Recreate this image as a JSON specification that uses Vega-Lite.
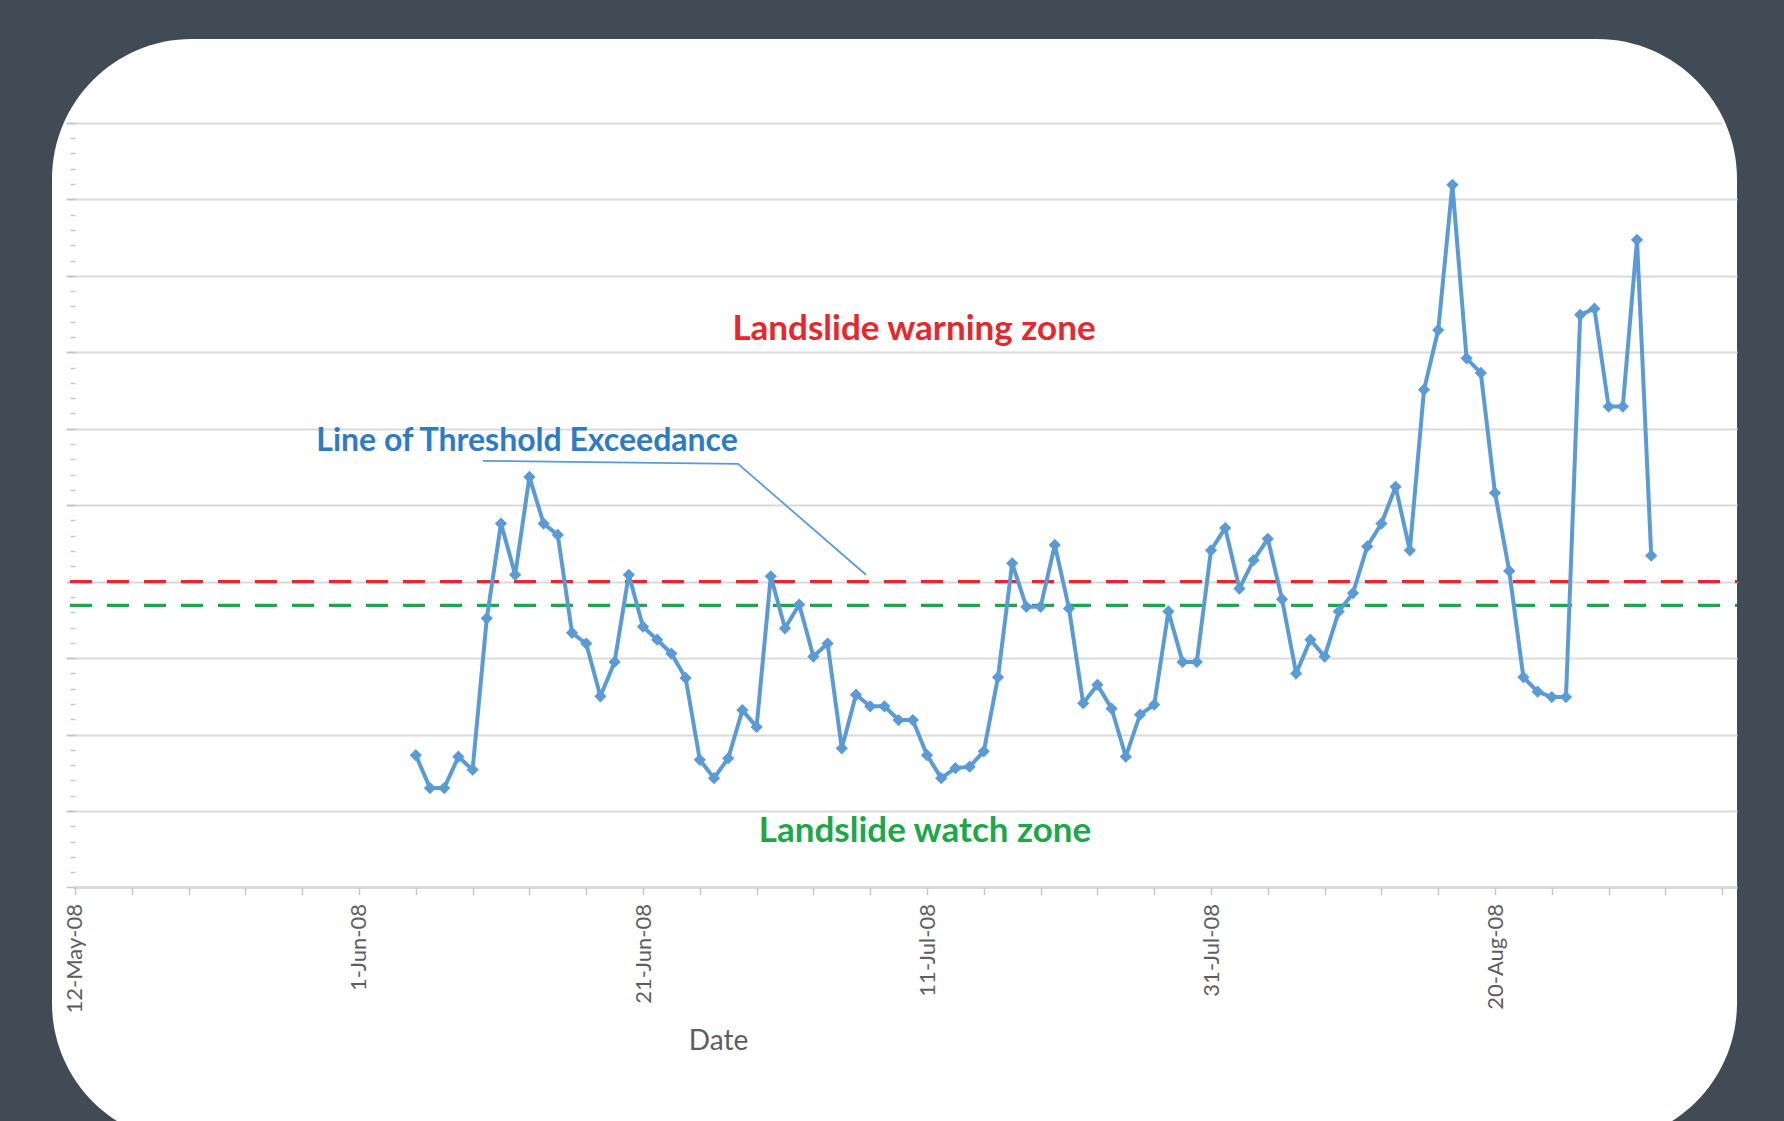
{
  "$schema": "https://vega.github.io/schema/vega-lite/v6.json",
  "usermeta": {"embedOptions": {"actions": false}},
  "autosize": {"type": "none"},
  "width": 1685,
  "height": 1104,
  "padding": {"left": 52, "top": 39, "right": 47, "bottom": 0},
  "background": "#414b56",
  "config": {
    "view": {"fill": "#ffffff", "stroke": null, "cornerRadius": 140},
    "font": "Lato"
  },
  "datasets": {
    "series": [
      {"date": "2008-06-05", "value": 1.73}, {"date": "2008-06-06", "value": 1.30}, {"date": "2008-06-07", "value": 1.30},
      {"date": "2008-06-08", "value": 1.71}, {"date": "2008-06-09", "value": 1.54}, {"date": "2008-06-10", "value": 3.52},
      {"date": "2008-06-11", "value": 4.76}, {"date": "2008-06-12", "value": 4.09}, {"date": "2008-06-13", "value": 5.37},
      {"date": "2008-06-14", "value": 4.76}, {"date": "2008-06-15", "value": 4.61}, {"date": "2008-06-16", "value": 3.33},
      {"date": "2008-06-17", "value": 3.19}, {"date": "2008-06-18", "value": 2.50}, {"date": "2008-06-19", "value": 2.95},
      {"date": "2008-06-20", "value": 4.09}, {"date": "2008-06-21", "value": 3.41}, {"date": "2008-06-22", "value": 3.24},
      {"date": "2008-06-23", "value": 3.06}, {"date": "2008-06-24", "value": 2.74}, {"date": "2008-06-25", "value": 1.67},
      {"date": "2008-06-26", "value": 1.43}, {"date": "2008-06-27", "value": 1.69}, {"date": "2008-06-28", "value": 2.32},
      {"date": "2008-06-29", "value": 2.10}, {"date": "2008-06-30", "value": 4.07}, {"date": "2008-07-01", "value": 3.39},
      {"date": "2008-07-02", "value": 3.70}, {"date": "2008-07-03", "value": 3.02}, {"date": "2008-07-04", "value": 3.19},
      {"date": "2008-07-05", "value": 1.82}, {"date": "2008-07-06", "value": 2.52}, {"date": "2008-07-07", "value": 2.37},
      {"date": "2008-07-08", "value": 2.37}, {"date": "2008-07-09", "value": 2.19}, {"date": "2008-07-10", "value": 2.19},
      {"date": "2008-07-11", "value": 1.73}, {"date": "2008-07-12", "value": 1.43}, {"date": "2008-07-13", "value": 1.56},
      {"date": "2008-07-14", "value": 1.58}, {"date": "2008-07-15", "value": 1.78}, {"date": "2008-07-16", "value": 2.75},
      {"date": "2008-07-17", "value": 4.24}, {"date": "2008-07-18", "value": 3.67}, {"date": "2008-07-19", "value": 3.67},
      {"date": "2008-07-20", "value": 4.48}, {"date": "2008-07-21", "value": 3.65}, {"date": "2008-07-22", "value": 2.41},
      {"date": "2008-07-23", "value": 2.65}, {"date": "2008-07-24", "value": 2.34}, {"date": "2008-07-25", "value": 1.71},
      {"date": "2008-07-26", "value": 2.26}, {"date": "2008-07-27", "value": 2.39}, {"date": "2008-07-28", "value": 3.61},
      {"date": "2008-07-29", "value": 2.95}, {"date": "2008-07-30", "value": 2.95}, {"date": "2008-07-31", "value": 4.41},
      {"date": "2008-08-01", "value": 4.70}, {"date": "2008-08-02", "value": 3.91}, {"date": "2008-08-03", "value": 4.28},
      {"date": "2008-08-04", "value": 4.56}, {"date": "2008-08-05", "value": 3.77}, {"date": "2008-08-06", "value": 2.80},
      {"date": "2008-08-07", "value": 3.24}, {"date": "2008-08-08", "value": 3.02}, {"date": "2008-08-09", "value": 3.61},
      {"date": "2008-08-10", "value": 3.85}, {"date": "2008-08-11", "value": 4.46}, {"date": "2008-08-12", "value": 4.76},
      {"date": "2008-08-13", "value": 5.24}, {"date": "2008-08-14", "value": 4.41}, {"date": "2008-08-15", "value": 6.51},
      {"date": "2008-08-16", "value": 7.29}, {"date": "2008-08-17", "value": 9.19}, {"date": "2008-08-18", "value": 6.92},
      {"date": "2008-08-19", "value": 6.73}, {"date": "2008-08-20", "value": 5.16}, {"date": "2008-08-21", "value": 4.14},
      {"date": "2008-08-22", "value": 2.75}, {"date": "2008-08-23", "value": 2.56}, {"date": "2008-08-24", "value": 2.49},
      {"date": "2008-08-25", "value": 2.49}, {"date": "2008-08-26", "value": 7.49}, {"date": "2008-08-27", "value": 7.57},
      {"date": "2008-08-28", "value": 6.29}, {"date": "2008-08-29", "value": 6.29}, {"date": "2008-08-30", "value": 8.47},
      {"date": "2008-08-31", "value": 4.34}
    ],
    "thresholds": [
      {"kind": "warning", "value": 4.0},
      {"kind": "watch", "value": 3.69}
    ],
    "notes": [
      {"kind": "warning", "text": "Landslide warning zone", "date": "2008-07-10T02:00:00Z", "value": 7.30},
      {"kind": "exceedance", "text": "Line of Threshold Exceedance", "date": "2008-06-12T20:00:00Z", "value": 5.84},
      {"kind": "watch", "text": "Landslide watch zone", "date": "2008-07-10T20:40:00Z", "value": 0.74}
    ],
    "leader": [
      {"date": "2008-06-09T17:30:00Z", "value": 5.58},
      {"date": "2008-06-27T16:35:00Z", "value": 5.54},
      {"date": "2008-07-06T16:50:00Z", "value": 4.09}
    ]
  },
  "layer": [
    {
      "mark": {"type": "rule", "color": "#cdcdcd", "strokeWidth": 2},
      "encoding": {
        "x": {"datum": {"year": 2008, "month": 5, "date": 12, "utc": true}},
        "y": {"datum": 0},
        "y2": {"datum": 10.05}
      }
    },
    {
      "data": {"name": "thresholds"},
      "mark": {"type": "rule", "strokeWidth": 3.4, "strokeDash": [22, 15]},
      "encoding": {
        "y": {"field": "value", "type": "quantitative"},
        "x": {"datum": {"year": 2008, "month": 5, "date": 11, "hours": 15, "minutes": 30, "utc": true}},
        "x2": {"datum": {"year": 2008, "month": 9, "date": 6, "hours": 1, "utc": true}},
        "color": {"field": "kind", "type": "nominal", "scale": {"domain": ["warning", "watch", "exceedance"], "range": ["#e8262d", "#1fa64a", "#2e7bc4"]}, "legend": null}
      }
    },
    {
      "data": {"name": "leader"},
      "mark": {"type": "line", "color": "#5b9bd5", "strokeWidth": 1.8},
      "encoding": {
        "x": {"field": "date", "type": "temporal"},
        "y": {"field": "value", "type": "quantitative"}
      }
    },
    {
      "mark": {"type": "point", "shape": "triangle-right", "filled": true, "color": "#5b9bd5", "size": 80, "angle": 41, "opacity": 1},
      "encoding": {
        "x": {"datum": {"year": 2008, "month": 7, "date": 6, "hours": 16, "minutes": 50, "utc": true}},
        "y": {"datum": 4.09}
      }
    },
    {
      "data": {"name": "series"},
      "mark": {"type": "line", "color": "#5b9bd5", "strokeWidth": 4, "point": {"filled": true, "shape": "diamond", "size": 150, "color": "#5b9bd5", "opacity": 1}},
      "encoding": {
        "x": {
          "field": "date", "type": "temporal",
          "scale": {"type": "utc", "nice": false, "domain": [{"year": 2008, "month": 5, "date": 10, "hours": 9, "minutes": 8, "utc": true}, {"year": 2008, "month": 9, "date": 6, "hours": 1, "utc": true}]},
          "axis": {
            "title": "Date",
            "tickCount": 500,
            "values": [
              {"year": 2008, "month": 5, "date": 12, "utc": true}, {"year": 2008, "month": 5, "date": 16, "utc": true},
              {"year": 2008, "month": 5, "date": 20, "utc": true}, {"year": 2008, "month": 5, "date": 24, "utc": true},
              {"year": 2008, "month": 5, "date": 28, "utc": true}, {"year": 2008, "month": 6, "date": 1, "utc": true},
              {"year": 2008, "month": 6, "date": 5, "utc": true}, {"year": 2008, "month": 6, "date": 9, "utc": true},
              {"year": 2008, "month": 6, "date": 13, "utc": true}, {"year": 2008, "month": 6, "date": 17, "utc": true},
              {"year": 2008, "month": 6, "date": 21, "utc": true}, {"year": 2008, "month": 6, "date": 25, "utc": true},
              {"year": 2008, "month": 6, "date": 29, "utc": true}, {"year": 2008, "month": 7, "date": 3, "utc": true},
              {"year": 2008, "month": 7, "date": 7, "utc": true}, {"year": 2008, "month": 7, "date": 11, "utc": true},
              {"year": 2008, "month": 7, "date": 15, "utc": true}, {"year": 2008, "month": 7, "date": 19, "utc": true},
              {"year": 2008, "month": 7, "date": 23, "utc": true}, {"year": 2008, "month": 7, "date": 27, "utc": true},
              {"year": 2008, "month": 7, "date": 31, "utc": true}, {"year": 2008, "month": 8, "date": 4, "utc": true},
              {"year": 2008, "month": 8, "date": 8, "utc": true}, {"year": 2008, "month": 8, "date": 12, "utc": true},
              {"year": 2008, "month": 8, "date": 16, "utc": true}, {"year": 2008, "month": 8, "date": 20, "utc": true},
              {"year": 2008, "month": 8, "date": 24, "utc": true}, {"year": 2008, "month": 8, "date": 28, "utc": true},
              {"year": 2008, "month": 9, "date": 1, "utc": true}, {"year": 2008, "month": 9, "date": 5, "utc": true}
            ],
            "labelExpr": "round((datum.value - 1210550400000) / 86400000) % 20 === 0 ? utcFormat(datum.value, '%-d-%b-%y') : ''",
            "labelAngle": 270,
            "labelFontSize": 22,
            "labelColor": "#5e5e5e",
            "labelPadding": 9,
            "labelOverlap": false,
            "labelFlush": false,
            "labelBound": false,
            "offset": -255.5,
            "domain": false,
            "grid": false,
            "ticks": true,
            "tickSize": 7,
            "tickColor": "#c8c8c8",
            "tickWidth": 1.5,
            "titleX": 666,
            "titleY": 154,
            "titleAlign": "center",
            "titleBaseline": "middle",
            "titleAngle": 0,
            "titleFontSize": 28,
            "titleFontWeight": "normal",
            "titleColor": "#5e5e5e"
          }
        },
        "y": {
          "field": "value", "type": "quantitative",
          "scale": {"domain": [-3.342, 11.097], "nice": false, "zero": false},
          "axis": {
            "title": null,
            "tickCount": 500,
            "values": [0,0.2,0.4,0.6,0.8,1,1.2,1.4,1.6,1.8,2,2.2,2.4,2.6,2.8,3,3.2,3.4,3.6,3.8,4,4.2,4.4,4.6,4.8,5,5.2,5.4,5.6,5.8,6,6.2,6.4,6.6,6.8,7,7.2,7.4,7.6,7.8,8,8.2,8.4,8.6,8.8,9,9.2,9.4,9.6,9.8,10],
            "labels": false,
            "domain": false,
            "offset": -23,
            "grid": true,
            "gridColor": "#dadada",
            "gridWidth": {"condition": {"test": "datum.value === 0", "value": 3}, "value": 2},
            "gridOpacity": {"condition": {"test": "abs(datum.value - round(datum.value)) < 0.001", "value": 1}, "value": 0},
            "gridDash": {"condition": [
              {"test": "datum.value === 10", "value": [0, 15, 1655, 200]},
              {"test": "datum.value === 0", "value": [0, 21, 2000]}
            ], "value": [0, 15, 2000]},
            "tickColor": "#c4c4c4",
            "tickWidth": 1.5,
            "tickSize": {"condition": {"test": "abs(datum.value - round(datum.value)) < 0.001", "value": 9}, "value": 5}
          }
        }
      }
    },
    {
      "data": {"name": "notes"},
      "transform": [{"filter": "datum.kind !== 'exceedance'"}],
      "mark": {"type": "text", "font": "Lato", "fontSize": 35, "fontWeight": "bold", "align": "center", "baseline": "middle"},
      "encoding": {
        "x": {"field": "date", "type": "temporal"},
        "y": {"field": "value", "type": "quantitative"},
        "text": {"field": "text"},
        "color": {"field": "kind", "type": "nominal", "legend": null}
      }
    },
    {
      "data": {"name": "notes"},
      "transform": [{"filter": "datum.kind === 'exceedance'"}],
      "mark": {"type": "text", "font": "Lato", "fontSize": 32, "fontWeight": "bold", "align": "center", "baseline": "middle"},
      "encoding": {
        "x": {"field": "date", "type": "temporal"},
        "y": {"field": "value", "type": "quantitative"},
        "text": {"field": "text"},
        "color": {"field": "kind", "type": "nominal", "legend": null}
      }
    }
  ]
}
